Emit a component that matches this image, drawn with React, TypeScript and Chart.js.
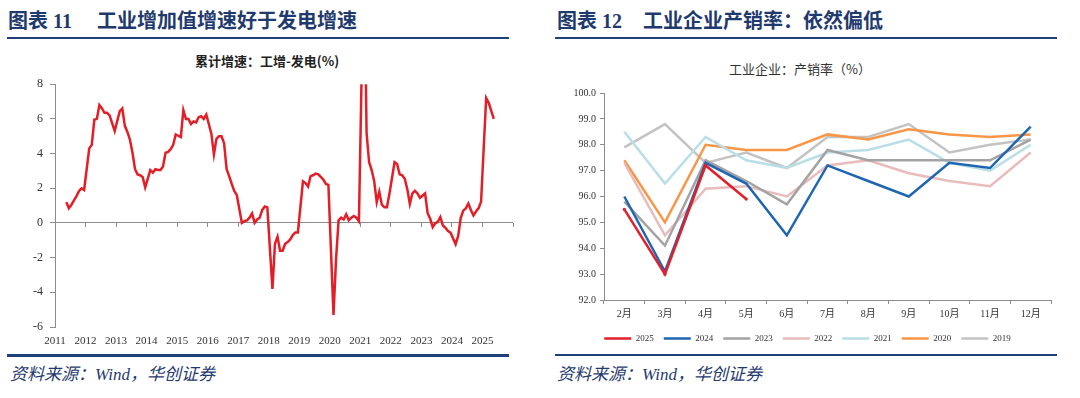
import React, { useEffect, useRef } from 'react';
import { Chart, registerables } from 'chart.js';

Chart.register(...registerables);

// ---------- Left chart: cumulative growth, industrial value added minus power generation (%) ----------
const yearLabels = ['2011', '2012', '2013', '2014', '2015', '2016', '2017', '2018', '2019', '2020', '2021', '2022', '2023', '2024', '2025'];

const spread2011 = [1.2, 0.85, 1.05, 1.3, 1.55, 1.85, 2.0, 1.9]; // May–Dec
const spread2012 = [4.3, 4.5, 5.95, 6.0, 6.8, 6.6, 6.35, 6.35, 6.2, 5.75, 5.3]; // Feb–Dec
const spread2013 = [6.45, 6.6, 5.6, 5.25, 4.8, 4.05, 3.1, 2.8, 2.75, 2.65, 2.05];
const spread2014 = [3.05, 2.9, 3.1, 3.05, 3.05, 3.25, 4.05, 4.1, 4.25, 4.5, 5.1];
const spread2015 = [4.95, 6.5, 6.0, 6.0, 5.7, 5.85, 5.8, 6.1, 6.15, 6.0, 6.25];
const spread2016 = [5.15, 3.95, 4.85, 5.0, 5.0, 4.6, 3.1, 2.7, 2.25, 1.85, 1.6];
const spread2017 = [0.0, 0.1, 0.15, 0.3, 0.55, 0.0, 0.2, 0.3, 0.75, 0.95, 0.9];
const spread2018 = [-3.8, -1.2, -0.8, -1.6, -1.6, -1.2, -1.1, -0.95, -0.7, -0.55, -0.55];
const spread2019 = [2.4, 2.3, 2.1, 2.7, 2.75, 2.85, 2.8, 2.65, 2.5, 2.25, 2.2];
const spread2020 = [-5.3, -2.1, 0.15, 0.3, 0.2, 0.5, 0.15, 0.3, 0.4, 0.3, 0.1];
const spread2021 = [16.1, 5.2, 3.5, 3.05, 2.4, 1.2, 1.8, 1.05, 0.9, 0.9, 1.7];
const spread2022 = [3.5, 3.4, 2.8, 2.75, 2.55, 1.95, 1.1, 1.7, 1.85, 1.7, 1.45];
const spread2023 = [1.7, 0.56, 0.24, -0.24, -0.02, 0.06, 0.34, -0.15, -0.28, -0.47, -0.56];
const spread2024 = [-1.22, -0.75, 0.28, 0.71, 0.84, 1.12, 0.75, 0.43, 0.66, 0.84, 1.22];
const spread2025 = [7.2, 6.93, 6.46, 6.0]; // Feb–May

// [year, index of first month (Jan = 0), values]
const spreadSeries: Array<[number, number, number[]]> = [
  [2011, 4, spread2011],
  [2012, 1, spread2012],
  [2013, 1, spread2013],
  [2014, 1, spread2014],
  [2015, 1, spread2015],
  [2016, 1, spread2016],
  [2017, 1, spread2017],
  [2018, 1, spread2018],
  [2019, 1, spread2019],
  [2020, 1, spread2020],
  [2021, 1, spread2021],
  [2022, 1, spread2022],
  [2023, 1, spread2023],
  [2024, 1, spread2024],
  [2025, 1, spread2025],
];

// ---------- Right chart: industrial enterprises, production-sales rate (%) ----------
const monthLabels = ['2月', '3月', '4月', '5月', '6月', '7月', '8月', '9月', '10月', '11月', '12月'];
const rate2025 = [95.5, 93.0, 97.2, 95.9, null, null, null, null, null, null, null];
const rate2024 = [96.0, 93.1, 97.3, 96.5, 94.5, 97.2, 96.6, 96.0, 97.3, 97.1, 98.7];
const rate2023 = [95.8, 94.1, 97.4, 96.6, 95.7, 97.8, 97.4, 97.4, 97.4, 97.4, 98.2];
const rate2022 = [97.3, 94.5, 96.3, 96.4, 96.0, 97.2, 97.4, 96.9, 96.6, 96.4, 97.7];
const rate2021 = [98.5, 96.5, 98.3, 97.4, 97.1, 97.7, 97.8, 98.2, 97.3, 97.0, 98.0];
const rate2020 = [97.4, 95.0, 98.0, 97.8, 97.8, 98.4, 98.2, 98.6, 98.4, 98.3, 98.4];
const rate2019 = [97.9, 98.8, 97.3, 97.7, 97.1, 98.3, 98.3, 98.8, 97.7, 98.0, 98.2];
const rateYears = ['2025', '2024', '2023', '2022', '2021', '2020', '2019'];
const rateSeries = [rate2025, rate2024, rate2023, rate2022, rate2021, rate2020, rate2019];
const rateColors = ['#E2202B', '#1F66B2', '#A3A3A3', '#E8BCBC', '#B9DEE8', '#F79646', '#C3C3C3'];

const SERIF = '"Liberation Serif", "Noto Sans CJK SC", serif';
const NAVY = '#1F3A6E';
const AXIS = '#8C8C8C';

function LeftChart() {
  const ref = useRef<HTMLCanvasElement>(null);
  useEffect(() => {
    const points = spreadSeries.flatMap(([year, start, vals]) =>
      vals.map((v, i) => ({ x: year + (start + i + 0.45) / 12, y: v }))
    );
    const chart = new Chart(ref.current as HTMLCanvasElement, {
      type: 'line',
      data: {
        datasets: [
          {
            data: points,
            borderColor: '#E41E26',
            backgroundColor: '#E41E26',
            borderWidth: 2.5,
            pointRadius: 0,
            tension: 0,
            xAxisID: 'x',
            yAxisID: 'y',
          },
        ],
      },
      options: {
        animation: false,
        responsive: false,
        maintainAspectRatio: false,
        layout: { padding: { left: 15, top: 9, right: 27, bottom: 0 } },
        plugins: { legend: { display: false }, tooltip: { enabled: false } },
        scales: {
          x: {
            type: 'linear',
            position: 'bottom',
            min: 2011,
            max: 2026,
            grid: { display: false, drawTicks: false },
            border: { display: false },
            ticks: {
              stepSize: 1,
              padding: 8,
              autoSkip: false,
              maxRotation: 0,
              color: '#333',
              font: { family: SERIF, size: 11 },
              callback: (v: any) => yearLabels[Number(v) - 2011] ?? '',
            },
            afterFit: (s: any) => {
              s.height = 24;
            },
          },
          x0: {
            type: 'linear',
            axis: 'x',
            position: { y: 0 },
            min: 2011,
            max: 2026,
            grid: { drawOnChartArea: false, drawTicks: true, tickLength: 4, color: AXIS, lineWidth: 1 },
            border: { display: false },
            ticks: { stepSize: 1, display: false },
            afterFit: (s: any) => {
              s.height = 0;
            },
          },
          y: {
            min: -6,
            max: 8,
            grid: {
              drawOnChartArea: true,
              tickLength: 5,
              tickColor: AXIS,
              color: (c: any) => (c.tick && c.tick.value === 0 ? AXIS : 'rgba(0,0,0,0)'),
            },
            border: { color: AXIS, width: 1 },
            ticks: { stepSize: 2, padding: 7, color: '#333', font: { family: SERIF, size: 12 } },
            afterFit: (s: any) => {
              s.width = 40;
            },
          },
        },
      } as any,
    });
    return () => chart.destroy();
  }, []);
  return (
    <canvas
      ref={ref}
      width={540}
      height={281}
      style={{ position: 'absolute', left: 0, top: 70, width: 540, height: 281 }}
    />
  );
}

function RightChart() {
  const ref = useRef<HTMLCanvasElement>(null);
  useEffect(() => {
    const chart = new Chart(ref.current as HTMLCanvasElement, {
      type: 'line',
      data: {
        labels: monthLabels,
        datasets: rateYears.map((year, i) => ({
          label: year,
          data: rateSeries[i],
          borderColor: rateColors[i],
          backgroundColor: rateColors[i],
          borderWidth: 2.5,
          pointRadius: i === 0 ? 1.6 : 0,
          pointBorderWidth: 0,
          tension: 0,
          fill: false,
        })),
      },
      options: {
        animation: false,
        responsive: false,
        maintainAspectRatio: false,
        layout: { padding: { left: 24, top: 13, right: 29, bottom: 1 } },
        plugins: {
          tooltip: { enabled: false },
          legend: {
            position: 'bottom',
            labels: {
              boxWidth: 27,
              boxHeight: 0,
              padding: 10,
              color: '#333',
              font: { family: SERIF, size: 9 },
            },
          },
        },
        scales: {
          x: {
            offset: true,
            grid: { offset: true, drawOnChartArea: false, tickLength: 4, color: AXIS },
            border: { color: AXIS, width: 1 },
            ticks: { padding: 4, maxRotation: 0, autoSkip: false, color: '#333', font: { family: SERIF, size: 10 } },
            afterFit: (s: any) => {
              s.height = 24;
            },
          },
          y: {
            min: 92,
            max: 100,
            grid: { drawOnChartArea: false, tickLength: 4, color: AXIS },
            border: { color: AXIS, width: 1 },
            ticks: {
              stepSize: 1,
              padding: 4,
              color: '#333',
              font: { family: SERIF, size: 10 },
              callback: (v: any) => Number(v).toFixed(1),
            },
            afterFit: (s: any) => {
              s.width = 40;
            },
          },
        },
      } as any,
    });
    return () => chart.destroy();
  }, []);
  return (
    <canvas
      ref={ref}
      width={540}
      height={274}
      style={{ position: 'absolute', left: 540, top: 80, width: 540, height: 274 }}
    />
  );
}

const headerStyle: React.CSSProperties = {
  position: 'absolute',
  top: 9,
  fontFamily: SERIF,
  fontWeight: 700,
  fontSize: 20,
  lineHeight: '24px',
  color: NAVY,
  whiteSpace: 'nowrap',
};
const ruleStyle: React.CSSProperties = { position: 'absolute', height: 2.5, width: 502, background: '#1F4079' };
const sourceStyle: React.CSSProperties = {
  position: 'absolute',
  top: 365,
  fontFamily: SERIF,
  fontStyle: 'italic',
  fontSize: 17,
  lineHeight: '20px',
  color: NAVY,
  whiteSpace: 'nowrap',
};

export default function App() {
  return (
    <div
      style={{
        position: 'absolute',
        left: 0,
        top: 0,
        width: 1080,
        height: 398,
        background: '#fff',
        overflow: 'hidden',
      }}
    >
      <LeftChart />
      <RightChart />

      <span style={{ ...headerStyle, left: 8 }}>图表 11</span>
      <span style={{ ...headerStyle, left: 97 }}>工业增加值增速好于发电增速</span>
      <div style={{ ...ruleStyle, left: 7, top: 36.5 }} />

      <span style={{ ...headerStyle, left: 557 }}>图表 12</span>
      <span style={{ ...headerStyle, left: 643 }}>工业企业产销率：依然偏低</span>
      <div style={{ ...ruleStyle, left: 555, top: 36.5 }} />

      <div
        style={{
          position: 'absolute',
          left: 167,
          width: 200,
          top: 53,
          textAlign: 'center',
          fontFamily: '"Noto Sans CJK SC", sans-serif',
          fontWeight: 700,
          fontSize: 13,
          lineHeight: '16px',
          color: '#222',
        }}
      >
        累计增速：工增-发电(%)
      </div>
      <div
        style={{
          position: 'absolute',
          left: 700,
          width: 200,
          top: 61,
          textAlign: 'center',
          fontFamily: '"Noto Sans CJK SC", sans-serif',
          fontSize: 13,
          lineHeight: '16px',
          color: '#333',
        }}
      >
        工业企业：产销率（%）
      </div>

      <div style={{ ...ruleStyle, left: 7, top: 354 }} />
      <div style={{ ...ruleStyle, left: 555, top: 353.5 }} />
      <span style={{ ...sourceStyle, left: 10 }}>资料来源：Wind，华创证券</span>
      <span style={{ ...sourceStyle, left: 557 }}>资料来源：Wind，华创证券</span>
    </div>
  );
}
